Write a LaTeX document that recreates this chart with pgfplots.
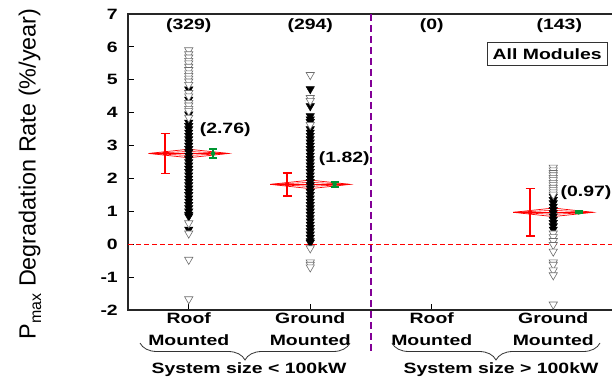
\documentclass[border=0pt]{standalone}
\usepackage{pgfplots}
\pgfplotsset{compat=1.18}
\usepackage{fontspec}
\setmainfont{Liberation Sans}
\newfontfamily\wide{Liberation Sans}[FakeStretch=1.3]
\usetikzlibrary{decorations.pathreplacing}
\newcommand\lab{\wide\bfseries\fontsize{15}{22}\selectfont}
\definecolor{mygreen}{RGB}{0,150,50}
\definecolor{mypurple}{RGB}{130,0,150}
\definecolor{opengray}{RGB}{110,110,110}
\begin{document}
\begin{tikzpicture}
\begin{axis}[
  at={(128bp,68bp)}, anchor=south west,
  scale only axis, width=486bp, height=296bp,
  xmin=-0.5, xmax=3.5, ymin=-2, ymax=7,
  xtick={0,1,2,3},
  xticklabels={{Roof\\Mounted},{Ground\\Mounted},{Roof\\Mounted},{Ground\\Mounted}},
  ytick={-2,-1,0,1,2,3,4,5,6,7},
  xtick pos=bottom, ytick pos=left, tick align=inside,
  major tick length=6bp,
  tick style={line width=1bp, black},
  axis line style={line width=1.3bp, black!85},
  xticklabel style={font=\lab, align=center, anchor=north, inner sep=0pt, yshift=-2.5bp},
  yticklabel style={font=\lab, anchor=east, inner sep=0pt, xshift=-10bp},
  /pgf/number format/assume math mode=true,
  ylabel={P{\fontsize{16}{16}\selectfont\raisebox{-0.35em}{max}} Degradation Rate (\%/year)},
  ylabel style={at={(rel axis cs:-0.2016,0.46)}, anchor=center, font=\fontsize{23.5}{23.5}\selectfont},
  clip=false,
]
% zero line
\addplot[red, dashed, line width=0.7bp, dash pattern=on 5bp off 3bp] coordinates {(-0.5,0) (3.5,0)};
% mean diamonds
\addplot[red, line width=0.7bp] coordinates {(-0.33,2.76) (0,2.89) (0.33,2.76) (0,2.63) (-0.33,2.76)};
\addplot[red, line width=0.6bp] coordinates {(-0.33,2.76) (0,2.82) (0.33,2.76) (0,2.70) (-0.33,2.76)};
\addplot[red, line width=0.8bp] coordinates {(-0.33,2.76) (0.33,2.76)};
\addplot[red, line width=0.7bp] coordinates {(0.67,1.82) (1,1.95) (1.33,1.82) (1,1.69) (0.67,1.82)};
\addplot[red, line width=0.6bp] coordinates {(0.67,1.82) (1,1.88) (1.33,1.82) (1,1.76) (0.67,1.82)};
\addplot[red, line width=0.8bp] coordinates {(0.67,1.82) (1.33,1.82)};
\addplot[red, line width=0.7bp] coordinates {(2.67,0.97) (3,1.10) (3.33,0.97) (3,0.84) (2.67,0.97)};
\addplot[red, line width=0.6bp] coordinates {(2.67,0.97) (3,1.03) (3.33,0.97) (3,0.91) (2.67,0.97)};
\addplot[red, line width=0.8bp] coordinates {(2.67,0.97) (3.33,0.97)};
% red error bars
\addplot[red, only marks, mark=none, error bars/.cd, y dir=both, y explicit,
  error bar style={line width=1.6bp, red},
  error mark options={rotate=90, mark size=4.5bp, line width=1.6bp, red}]
  coordinates {(-0.195,2.76) +- (0,0.61) (0.81,1.82) +- (0,0.35) (2.81,0.97) +- (0,0.72)};
% filled markers
\addplot[only marks, mark=triangle*, mark size=4.8bp, mark options={rotate=180, fill=black, draw=black, line width=0.5bp}]
  coordinates {
  (0,4.71) (0,4.40) (0,3.95) (0,3.70) (0,3.60) (0,3.50) (0,3.40) (0,3.30) (0,3.20) (0,3.10) (0,3.00)
  (0,2.90) (0,2.80) (0,2.70) (0,2.60) (0,2.50) (0,2.40) (0,2.30) (0,2.20) (0,2.10) (0,2.00)
  (0,1.90) (0,1.80) (0,1.70) (0,1.60) (0,1.50) (0,1.40) (0,1.30) (0,1.20) (0,1.10) (0,1.00)
  (0,0.90) (0,0.85) (0,0.45)
  (1,4.72) (1,4.20) (1,3.90) (1,3.80) (1,3.72) (1,3.50) (1,3.40) (1,3.30) (1,3.20) (1,3.10)
  (1,3.00) (1,2.90) (1,2.80) (1,2.70) (1,2.60) (1,2.50) (1,2.40) (1,2.30) (1,2.20) (1,2.10)
  (1,2.00) (1,1.90) (1,1.80) (1,1.70) (1,1.60) (1,1.50) (1,1.40) (1,1.30) (1,1.20) (1,1.10)
  (1,1.00) (1,0.90) (1,0.80) (1,0.70) (1,0.60) (1,0.50) (1,0.40) (1,0.30) (1,0.20) (1,0.10)
  (1,0.05)
  (3,1.45) (3,1.35) (3,1.25) (3,1.15) (3,1.05) (3,0.95) (3,0.85) (3,0.75) (3,0.65) (3,0.55)
  (3,0.45)
  };
% open markers
\addplot[only marks, mark=triangle*, mark size=4.8bp, mark options={rotate=180, fill=white, draw=opengray, line width=0.6bp}]
  coordinates {
  (0,5.90) (0,5.78) (0,5.68) (0,5.58) (0,5.50) (0,5.40) (0,5.30) (0,5.20) (0,5.12) (0,5.04)
  (0,4.95) (0,4.85) (0,4.60) (0,4.50) (0,4.30) (0,4.22) (0,4.12) (0,4.05) (0,3.85)
  (0,0.64) (0,0.33) (0,-0.47) (0,-1.67)
  (1,5.15) (1,4.45) (1,4.36) (1,3.63) (1,-0.12) (1,-0.55) (1,-0.62) (1,-0.70)
  (3,2.33) (3,2.25) (3,2.17) (3,2.10) (3,2.02) (3,1.95) (3,1.87) (3,1.80) (3,1.72) (3,1.65)
  (3,1.58) (3,1.51) (3,0.33) (3,0.22) (3,0.10) (3,-0.02) (3,-0.22) (3,-0.55) (3,-0.62)
  (3,-0.79) (3,-0.94) (3,-1.83)
  };
% green error bars
\addplot[mygreen, only marks, mark=none, error bars/.cd, y dir=both, y explicit,
  error bar style={line width=2.2bp, mygreen},
  error mark options={rotate=90, mark size=4bp, line width=1.8bp, mygreen}]
  coordinates {(0.2,2.76) +- (0,0.14) (1.2,1.82) +- (0,0.08) (3.21,0.97) +- (0,0.03)};
% annotations
\node[font=\lab] at (axis cs:0,6.66) {(329)};
\node[font=\lab] at (axis cs:1,6.66) {(294)};
\node[font=\lab] at (axis cs:2,6.66) {(0)};
\node[font=\lab] at (axis cs:3.05,6.66) {(143)};
\node[font=\lab] at (axis cs:0.30,3.47) {(2.76)};
\node[font=\lab] at (axis cs:1.28,2.61) {(1.82)};
\node[font=\lab] at (axis cs:3.27,1.58) {(0.97)};
\node[font=\lab, draw=black!80, line width=0.8bp, minimum width=120bp, minimum height=23bp, inner sep=0pt] at (axis cs:2.95,5.79) {All Modules};
% divider
\draw[mypurple, line width=2.5bp, dash pattern=on 7bp off 4bp] (rel axis cs:0.5,1) -- (rel axis cs:0.5,-0.152);
% braces
\draw[decorate, decoration={brace, mirror, amplitude=17bp}, line width=0.8bp, black!80]
  (rel axis cs:0.0247,-0.1115) -- (rel axis cs:0.4568,-0.1115);
\draw[decorate, decoration={brace, mirror, amplitude=17bp}, line width=0.8bp, black!80]
  (rel axis cs:0.5432,-0.1115) -- (rel axis cs:0.9712,-0.1115);
\node[font=\lab, anchor=base] at (rel axis cs:0.2490,-0.2162) {System size < 100kW};
\node[font=\lab, anchor=base] at (rel axis cs:0.7675,-0.2162) {System size > 100kW};
\end{axis}
\pgfresetboundingbox
\path (0,0) rectangle (612bp,378bp);
\end{tikzpicture}
\end{document}
